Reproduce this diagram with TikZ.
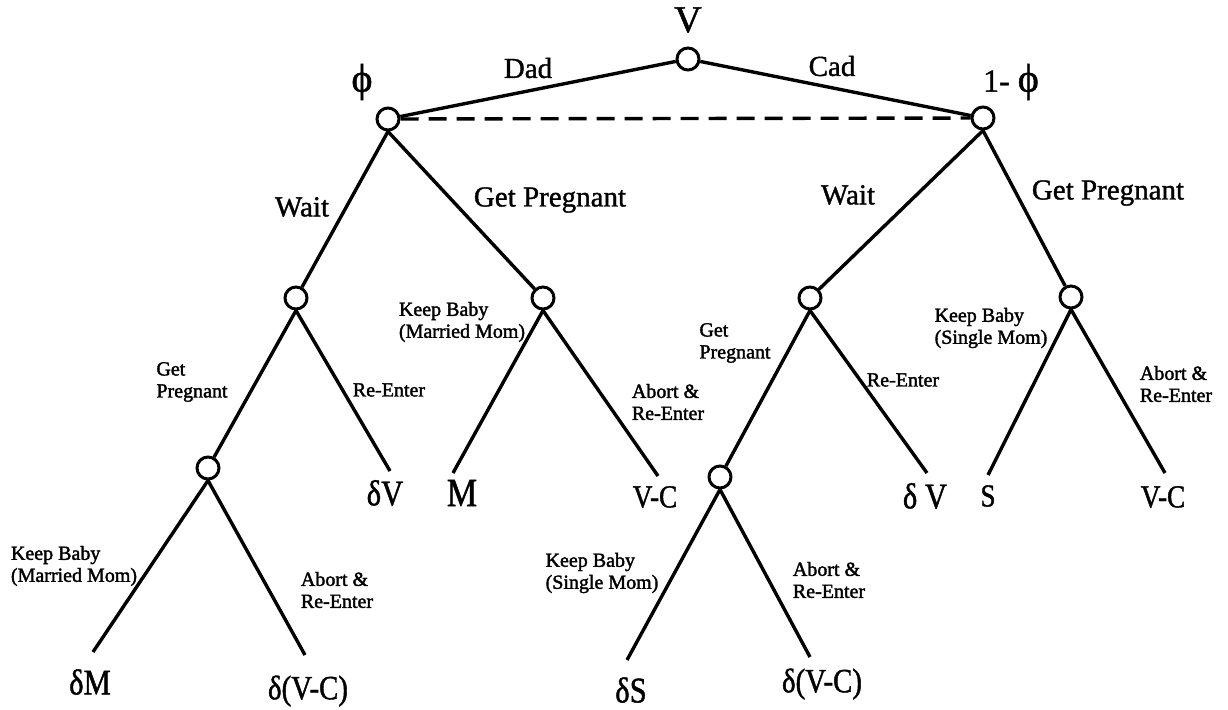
\documentclass[tikz,border=0pt]{standalone}
\usepackage{fontspec}
\setmainfont{Liberation Serif}
\newfontfamily\treeBig{Liberation Serif}[FakeBold=1.2]
\newfontfamily\treeSmall{Liberation Serif}[FakeBold=1.8]
\newfontfamily\treeLeaf{Liberation Serif}[FakeBold=1.2, FakeStretch=0.85]
\begin{document}
\begin{tikzpicture}[x=1pt,y=-1pt]
\tikzset{
  dec/.style={circle, draw, line width=3pt, minimum size=22pt, inner sep=0pt},
  edge/.style={line width=3.4pt},
  big/.style={font=\treeBig\fontsize{29}{32}\selectfont, inner sep=0pt},
  small/.style={font=\treeSmall\fontsize{20}{22}\selectfont, align=left, inner sep=0pt},
  leaf/.style={font=\treeLeaf\fontsize{36}{38}\selectfont, inner sep=0pt},
}
\useasboundingbox (0,0) rectangle (1228,709);
% decision nodes
\node[dec] (V) at (688,59) {};
\node[dec] (P) at (388,119) {};
\node[dec] (Q) at (983,118) {};
\node[dec] (LL) at (296,298) {};
\node[dec] (LR) at (543,298) {};
\node[dec] (RL) at (810,298) {};
\node[dec] (RR) at (1071,297) {};
\node[dec] (LLL) at (208,468) {};
\node[dec] (RLL) at (720,477) {};
% leaf ends
\coordinate (eLLR) at (390,471);
\coordinate (eLRL) at (453,473);
\coordinate (eLRR) at (658,476);
\coordinate (eRLR) at (927,473);
\coordinate (eRRL) at (988,475);
\coordinate (eRRR) at (1165,473);
\coordinate (eLLLL) at (93,652);
\coordinate (eLLLR) at (305,655);
\coordinate (eRLLL) at (627,660);
\coordinate (eRLLR) at (810,657);
% connectors
\draw[edge] (V) -- (P);
\draw[edge] (V) -- (Q);
\draw[edge, dash pattern=on 18pt off 10pt] (P) -- (Q);
\draw[edge] (P.south) -- (LL);
\draw[edge] (P.south) -- (LR);
\draw[edge] (Q.south) -- (RL);
\draw[edge] (Q.south) -- (RR);
\draw[edge] (LL.south) -- (LLL);
\draw[edge] (LL.south) -- (eLLR);
\draw[edge] (LR.south) -- (eLRL);
\draw[edge] (LR.south) -- (eLRR);
\draw[edge] (RL.south) -- (RLL);
\draw[edge] (RL.south) -- (eRLR);
\draw[edge] (RR.south) -- (eRRL);
\draw[edge] (RR.south) -- (eRRR);
\draw[edge] (LLL.south) -- (eLLLL);
\draw[edge] (LLL.south) -- (eLLLR);
\draw[edge] (RLL.south) -- (eRLLL);
\draw[edge] (RLL.south) -- (eRLLR);
% top labels
\node[big, font=\treeBig\fontsize{38}{40}\selectfont] (tV) at (688,20) {V};
\node[big, font=\treeBig\fontsize{40}{42}\selectfont] (tP) at (362,82) {ϕ};
\node[big, font=\treeBig\fontsize{32}{34}\selectfont] (tQ) at (1011,82) {1- \fontsize{40}{42}\selectfont ϕ};
\node[big] (tDad) at (528,68) {Dad};
\node[big] (tCad) at (832,66) {Cad};
\node[big] (tW1) at (302,207) {Wait};
\node[big] (tG1) at (550,200) {Get Pregnant};
\node[big] (tW2) at (848,195) {Wait};
\node[big] (tG2) at (1108,193) {Get Pregnant};
% small labels
\node[small] (s1) at (192,382) {Get\\Pregnant};
\node[small] (s2) at (389,390) {Re-Enter};
\node[small] (s3) at (462,322) {Keep Baby\\(Married Mom)};
\node[small] (s4) at (668,402) {Abort \&\\Re-Enter};
\node[small] (s5) at (735,343) {Get\\Pregnant};
\node[small] (s6) at (903,380) {Re-Enter};
\node[small] (s7) at (991,328) {Keep Baby\\(Single Mom)};
\node[small] (s8) at (1176,384) {Abort \&\\Re-Enter};
\node[small] (s9) at (74,566) {Keep Baby\\(Married Mom)};
\node[small] (s10) at (337,590) {Abort \&\\Re-Enter};
\node[small] (s11) at (602,573) {Keep Baby\\(Single Mom)};
\node[small] (s12) at (829,580) {Abort \&\\Re-Enter};
% payoffs
\node[leaf] (p1) at (385,493) {δV};
\node[leaf, font=\treeLeaf\fontsize{40}{40}\selectfont] (p2) at (462,493) {M};
\node[leaf, font=\treeLeaf\fontsize{32}{36}\selectfont] (p3) at (655,497) {V-C};
\node[leaf] (p4) at (925,496) {δ V};
\node[leaf, font=\treeLeaf\fontsize{32}{36}\selectfont] (p5) at (988,496) {S};
\node[leaf, font=\treeLeaf\fontsize{32}{36}\selectfont] (p6) at (1163,497) {V-C};
\node[leaf] (p7) at (90,682) {δM};
\node[leaf, font=\treeLeaf\fontsize{34}{36}\selectfont] (p8) at (308,691) {δ(V-C)};
\node[leaf] (p9) at (631,690) {δS};
\node[leaf, font=\treeLeaf\fontsize{34}{36}\selectfont] (p10) at (822,684) {δ(V-C)};
\end{tikzpicture}
\end{document}
